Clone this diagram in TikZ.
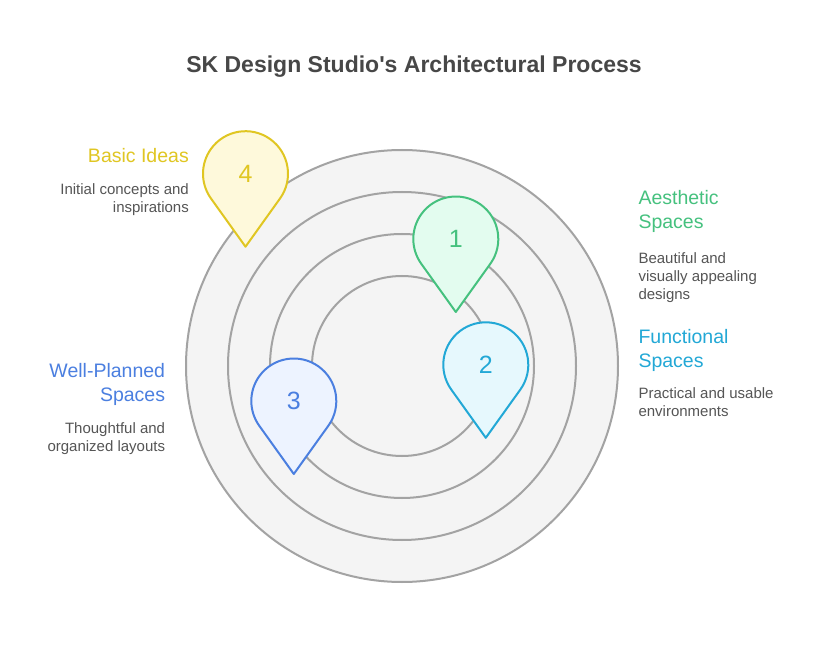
\documentclass[tikz,border=0pt]{standalone}
\usepackage{fontspec}
\setmainfont{Liberation Sans}
\definecolor{ringline}{HTML}{A3A3A3}
\definecolor{ringfill}{HTML}{F4F4F4}
\definecolor{titlecol}{HTML}{474747}
\definecolor{desccol}{HTML}{555555}
\definecolor{cYel}{HTML}{E0C622}
\definecolor{fYel}{HTML}{FEF9DB}
\definecolor{cGrn}{HTML}{45C17E}
\definecolor{fGrn}{HTML}{E3FCEF}
\definecolor{cCya}{HTML}{22A8D6}
\definecolor{fCya}{HTML}{E6F8FD}
\definecolor{cBlu}{HTML}{4B7FE0}
\definecolor{fBlu}{HTML}{EDF3FF}
\begin{document}
\begin{tikzpicture}[x=1pt,y=-1pt,
  ring/.style={circle,draw=ringline,fill=ringfill,line width=2pt,inner sep=0pt},
  droppath/.style={line width=2pt,line join=round},
  numtext/.style={font=\fontsize{25}{28}\selectfont,inner sep=0pt},
  headtext/.style={font=\fontsize{19.5}{23}\selectfont,inner sep=0pt},
  desctext/.style={font=\fontsize{15}{18}\selectfont,text=desccol,inner sep=0pt},
  titletext/.style={font=\bfseries\fontsize{23}{27}\selectfont,text=titlecol,inner sep=0pt}]
\useasboundingbox[fill=white] (0,0) rectangle (828,660);
% title
\node[titletext,anchor=base] (title) at (414,72.7) {SK Design Studio\textquotesingle s Architectural Process};
% rings
\node[ring,minimum size=432pt] (r4) at (402,366) {};
\node[ring,minimum size=348pt] (r3) at (402,366) {};
\node[ring,minimum size=264pt] (r2) at (402,366) {};
\node[ring,minimum size=180pt] (r1) at (402,366) {};
% pins
\newcommand\dropshape[4]{%
  \draw[droppath,draw=#3,fill=#4] (#1,#2) ++(35.5:42.5) arc[start angle=35.5,end angle=-215.5,radius=42.5] -- (#1,#2+73) -- cycle;}
\dropshape{245.5}{173.7}{cYel}{fYel}
\node[numtext,text=cYel] (n4) at (245.5,173.7) {4};
\dropshape{455.8}{239}{cGrn}{fGrn}
\node[numtext,text=cGrn] (n1) at (455.8,239) {1};
\dropshape{485.8}{364.8}{cCya}{fCya}
\node[numtext,text=cCya] (n2) at (485.8,364.8) {2};
\dropshape{293.8}{401}{cBlu}{fBlu}
\node[numtext,text=cBlu] (n3) at (293.8,401) {3};
% Basic Ideas
\node[headtext,text=cYel,anchor=base east] (h4) at (189,162.3) {Basic Ideas};
\node[desctext,anchor=base east] (d4a) at (189,195) {Initial concepts and};
\node[desctext,anchor=base east] (d4b) at (189,213) {inspirations};
% Aesthetic
\node[headtext,text=cGrn,anchor=base west] (h1a) at (638.3,205) {Aesthetic};
\node[headtext,text=cGrn,anchor=base west] (h1b) at (638.3,229) {Spaces};
\node[desctext,anchor=base west] (d1a) at (638.3,263.3) {Beautiful and};
\node[desctext,anchor=base west] (d1b) at (638.3,281.5) {visually appealing};
\node[desctext,anchor=base west] (d1c) at (638.3,299.7) {designs};
% Functional
\node[headtext,text=cCya,anchor=base west] (h2a) at (638.3,343.3) {Functional};
\node[headtext,text=cCya,anchor=base west] (h2b) at (638.3,367.3) {Spaces};
\node[desctext,anchor=base west] (d2a) at (638.3,398.3) {Practical and usable};
\node[desctext,anchor=base west] (d2b) at (638.3,416.3) {environments};
% Well-Planned
\node[headtext,text=cBlu,anchor=base east] (h3a) at (165.3,377.7) {Well-Planned};
\node[headtext,text=cBlu,anchor=base east] (h3b) at (165.3,401.7) {Spaces};
\node[desctext,anchor=base east] (d3a) at (165.3,433.3) {Thoughtful and};
\node[desctext,anchor=base east] (d3b) at (165.3,451.3) {organized layouts};
\end{tikzpicture}
\end{document}
